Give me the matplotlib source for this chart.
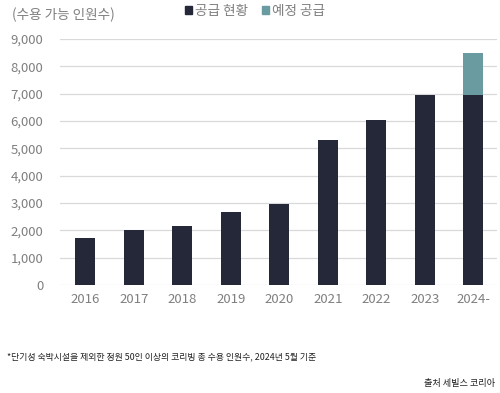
import matplotlib.pyplot as plt
import numpy as np

plt.rcParams['font.family'] = ['Noto Sans CJK KR', 'DejaVu Sans']

years = ['2016', '2017', '2018', '2019', '2020', '2021', '2022', '2023', '2024-']
current = [1700, 2000, 2150, 2670, 2970, 5300, 6020, 6950, 6950]
planned = [0, 0, 0, 0, 0, 0, 0, 0, 1550]
yticks = [0, 1000, 2000, 3000, 4000, 5000, 6000, 7000, 8000, 9000]

dark = '#252839'
teal = '#6a9ba0'
gray = '#7f7f7f'

fig = plt.figure(figsize=(5, 3.93), dpi=100)
ax = fig.add_axes([0.12, 0.275, 0.874, 0.626])

x = np.arange(len(years))
width = 0.42
ax.bar(x, current, width, color=dark, label='공급 현황', zorder=3)
ax.bar(x, planned, width, bottom=current, color=teal, label='예정 공급', zorder=3)

ax.set_ylim(0, 9000)
ax.set_xlim(-0.52, 8.49)
ax.set_yticks(yticks)
ax.set_yticklabels(['{:,}'.format(v) for v in yticks], color=gray, fontsize=9.5)
ax.set_xticks(x)
ax.set_xticklabels(years, color=gray, fontsize=9.5)
ax.tick_params(length=0, pad=6)
ax.tick_params(axis='y', pad=12)
ax.grid(axis='y', color='#d9d9d9', linewidth=0.9, zorder=0)
for s in ax.spines.values():
    s.set_visible(False)

fig.text(0.024, 0.963, '(수용 가능 인원수)', color=gray, fontsize=9.8, va='center')

# legend as squares + text at the top
handles = [plt.Rectangle((0, 0), 1, 1, color=c) for c in (dark, teal)]
fig.legend(handles, ['공급 현황', '예정 공급'], loc='center', bbox_to_anchor=(0.51, 0.972),
           ncol=2, frameon=False, fontsize=9.8, handlelength=0.55, handleheight=0.55,
           handletextpad=0.2, columnspacing=1.0, labelcolor=gray, borderpad=0)

fig.text(0.014, 0.092, '*단기성 숙박시설을 제외한 정원 50인 이상의 코리빙 총 수용 인원수, 2024년 5월 기준',
         color='#222222', fontsize=6.4, va='center')
fig.text(0.99, 0.025, '출처 세빌스 코리아', color='#222222', fontsize=6.6, va='center', ha='right')

fig.savefig('out.png', dpi=100)
